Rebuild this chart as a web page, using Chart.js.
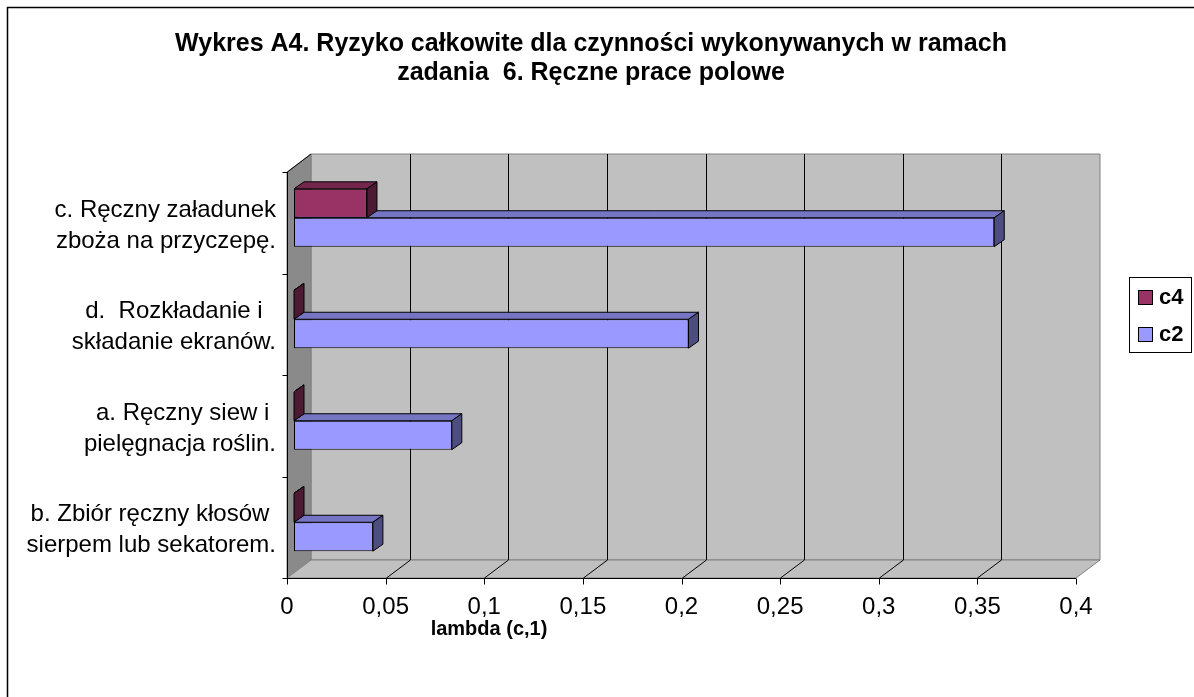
<!DOCTYPE html>
<html lang="pl">
<head>
<meta charset="utf-8">
<title>Wykres A4</title>
<script src="https://cdn.jsdelivr.net/npm/chart.js"></script>
<style>
    html, body { margin: 0; padding: 0; background: #ffffff; }
    canvas { display: block; }
</style>
</head>
<body>
<canvas id="riskChart" width="1194" height="697"></canvas>
<script>
const categories = [
    ['c. Ręczny załadunek', 'zboża na przyczepę.'],
    ['d.  Rozkładanie i  ', 'składanie ekranów.'],
    ['a. Ręczny siew i ', 'pielęgnacja roślin.'],
    ['b. Zbiór ręczny kłosów ', 'sierpem lub sekatorem.']
];
const seriesNames = ['c4', 'c2'];
const c4Values = [0.037, 0, 0, 0];
const c2Values = [0.355, 0.2, 0.08, 0.04];
const valueTicks = [0, 0.05, 0.1, 0.15, 0.2, 0.25, 0.3, 0.35, 0.4];
const titleLines = [
    'Wykres A4. Ryzyko całkowite dla czynności wykonywanych w ramach',
    'zadania  6. Ręczne prace polowe'
];
const axisTitle = 'lambda (c,1)';

const FONT = '"Liberation Sans", Arial, sans-serif';

// 3D offsets relative to the plane where the bars' front faces sit
const FRONT = { dx: -7, dy: 5 };
const BACK = { dx: 17, dy: -13 };
const DEPTH = { dx: 10, dy: -7 };

const faceColors = [
    { front: '#993366', top: '#74264d', side: '#4d1a33' },
    { front: '#9999ff', top: '#7575c4', side: '#4d4d80' }
];

function formatTick(value) {
    return parseFloat(value.toFixed(2)).toString().replace('.', ',');
}

function polygon(ctx, points, fill, stroke) {
    ctx.beginPath();
    ctx.moveTo(points[0][0], points[0][1]);
    for (let i = 1; i < points.length; i++) {
        ctx.lineTo(points[i][0], points[i][1]);
    }
    ctx.closePath();
    if (fill) {
        ctx.fillStyle = fill;
        ctx.fill();
    }
    if (stroke) {
        ctx.strokeStyle = stroke;
        ctx.lineWidth = 1;
        ctx.stroke();
    }
}

function line(ctx, x1, y1, x2, y2, color) {
    ctx.beginPath();
    ctx.moveTo(x1, y1);
    ctx.lineTo(x2, y2);
    ctx.strokeStyle = color;
    ctx.lineWidth = 1;
    ctx.stroke();
}

const box3d = {
    id: 'box3d',
    afterLayout(chart) {
        // let the long category labels use the space left of the axis box
        chart.scales.y.left = 0;
    },
    beforeDatasetsDraw(chart) {
        const { ctx, chartArea: a, scales: { x, y } } = chart;
        const L = a.left, R = a.right, T = a.top, B = a.bottom;
        ctx.save();

        // Back wall
        polygon(ctx, [
            [L + BACK.dx, T + BACK.dy], [R + BACK.dx, T + BACK.dy],
            [R + BACK.dx, B + BACK.dy], [L + BACK.dx, B + BACK.dy]
        ], '#c0c0c0', '#808080');

        // Left side wall
        polygon(ctx, [
            [L + FRONT.dx, T + FRONT.dy], [L + BACK.dx, T + BACK.dy],
            [L + BACK.dx, B + BACK.dy], [L + FRONT.dx, B + FRONT.dy]
        ], '#8a8a8a', '#808080');

        // Floor
        polygon(ctx, [
            [L + FRONT.dx, B + FRONT.dy], [L + BACK.dx, B + BACK.dy],
            [R + BACK.dx, B + BACK.dy], [R + FRONT.dx, B + FRONT.dy]
        ], '#c0c0c0', '#808080');

        // Gridlines on the back wall and floor
        x.ticks.forEach(t => {
            if (t.value <= x.min || t.value >= x.max) return;
            const px = Math.round(x.getPixelForValue(t.value)) + 0.5;
            ctx.beginPath();
            ctx.moveTo(px + BACK.dx, T + BACK.dy);
            ctx.lineTo(px + BACK.dx, B + BACK.dy);
            ctx.lineTo(px + FRONT.dx, B + FRONT.dy);
            ctx.strokeStyle = '#000000';
            ctx.lineWidth = 1;
            ctx.stroke();
        });

        // Front axis lines
        const fl = Math.round(L + FRONT.dx) + 0.5;
        const fb = Math.round(B + FRONT.dy) + 0.5;
        line(ctx, fl, T + FRONT.dy, fl, fb, '#000000');
        line(ctx, fl, T + FRONT.dy, L + BACK.dx, T + BACK.dy, '#000000');
        line(ctx, fl, fb, R + FRONT.dx, fb, '#000000');

        // Tick marks
        x.ticks.forEach(t => {
            const px = Math.round(x.getPixelForValue(t.value) + FRONT.dx) + 0.5;
            line(ctx, px, fb, px, fb + 6, '#000000');
        });
        for (let i = 0; i <= categories.length; i++) {
            const py = Math.round(y.getPixelForValue(i - 0.5) + FRONT.dy) + 0.5;
            line(ctx, fl - 5, py, fl, py, '#000000');
        }
        ctx.restore();
    },
    afterDatasetDraw(chart, args) {
        const { ctx } = chart;
        const colors = faceColors[args.index];
        ctx.save();
        args.meta.data.forEach(bar => {
            const p = bar.getProps(['x', 'y', 'base', 'height'], true);
            const left = Math.min(p.base, p.x);
            const right = Math.max(p.base, p.x);
            const top = p.y - p.height / 2;
            const bottom = p.y + p.height / 2;
            // Top face
            polygon(ctx, [
                [left, top], [left + DEPTH.dx, top + DEPTH.dy],
                [right + DEPTH.dx, top + DEPTH.dy], [right, top]
            ], colors.top, '#000000');
            // Right side face
            polygon(ctx, [
                [right, top], [right + DEPTH.dx, top + DEPTH.dy],
                [right + DEPTH.dx, bottom + DEPTH.dy], [right, bottom]
            ], colors.side, '#000000');
        });
        ctx.restore();
    },
    afterDraw(chart) {
        const { ctx } = chart;
        ctx.save();

        // Outer chart border (right and bottom edges fall outside the picture)
        ctx.strokeStyle = '#000000';
        ctx.lineWidth = 1.5;
        ctx.strokeRect(7.5, 7.5, 1200, 700);

        // Axis title
        ctx.fillStyle = '#000000';
        ctx.font = 'bold 20px ' + FONT;
        ctx.textAlign = 'center';
        ctx.textBaseline = 'middle';
        ctx.fillText(axisTitle, 489, 629);

        // Legend
        ctx.lineWidth = 1;
        ctx.strokeRect(1129.5, 277.5, 62, 75);
        ctx.font = 'bold 22px ' + FONT;
        ctx.textAlign = 'left';
        chart.data.datasets.forEach((ds, i) => {
            const top = 290 + i * 37;
            ctx.fillStyle = ds.backgroundColor;
            ctx.fillRect(1138.5, top + 0.5, 14, 14);
            ctx.strokeRect(1138.5, top + 0.5, 14, 14);
            ctx.fillStyle = '#000000';
            ctx.fillText(ds.label, 1159, top + 8);
        });
        ctx.restore();
    }
};

const riskChart = new Chart(document.getElementById('riskChart'), {
    type: 'bar',
    data: {
        labels: categories,
        datasets: [
            {
                label: seriesNames[0],
                data: c4Values,
                backgroundColor: faceColors[0].front,
                borderColor: '#000000',
                borderWidth: 1,
                borderSkipped: false
            },
            {
                label: seriesNames[1],
                data: c2Values,
                backgroundColor: faceColors[1].front,
                borderColor: '#000000',
                borderWidth: 1,
                borderSkipped: false
            }
        ]
    },
    options: {
        indexAxis: 'y',
        responsive: false,
        animation: false,
        categoryPercentage: 0.57,
        barPercentage: 1,
        layout: {
            padding: { left: 99, right: 111, top: 0, bottom: 64 }
        },
        plugins: {
            legend: { display: false },
            tooltip: { enabled: false },
            title: {
                display: true,
                text: titleLines,
                color: '#000000',
                font: { family: FONT, size: 25, weight: 'bold', lineHeight: 1.16 },
                padding: { top: 29.5, bottom: 79.5 }
            }
        },
        scales: {
            x: {
                min: valueTicks[0],
                max: valueTicks[valueTicks.length - 1],
                grid: { display: false },
                border: { display: false },
                afterBuildTicks: scale => {
                    scale.ticks = valueTicks.map(v => ({ value: v }));
                },
                afterFit: scale => { scale.height = 60; },
                ticks: {
                    autoSkip: false,
                    maxRotation: 0,
                    padding: 12,
                    labelOffset: FRONT.dx,
                    color: '#000000',
                    font: { family: FONT, size: 24 },
                    callback: value => formatTick(value)
                }
            },
            y: {
                grid: { display: false },
                border: { display: false },
                afterFit: scale => { scale.width = 195; },
                ticks: {
                    autoSkip: false,
                    padding: 10,
                    labelOffset: 8,
                    color: '#000000',
                    font: { family: FONT, size: 24, lineHeight: 1.3 }
                }
            }
        }
    },
    plugins: [box3d]
});
</script>
</body>
</html>
